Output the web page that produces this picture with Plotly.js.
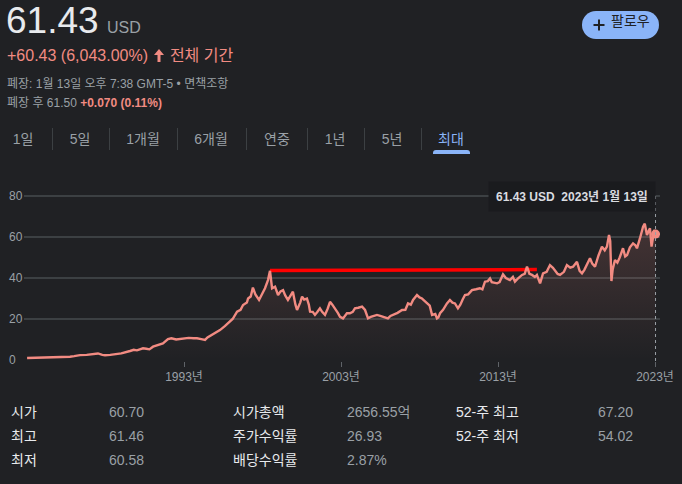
<!DOCTYPE html>
<html><head><meta charset="utf-8">
<script src="https://cdn.plot.ly/plotly-3.0.1.min.js"></script>
<style>
html,body{margin:0;padding:0;background:#202124;width:682px;height:484px;overflow:hidden}
#chart{position:absolute;left:0;top:0;width:682px;height:484px}
.t{position:absolute;white-space:nowrap;font-family:"Liberation Sans",Arial,"Noto Sans CJK KR",sans-serif}
.tab{position:absolute;width:80px;text-align:center;font-size:14px;line-height:14px;top:132px;color:#9aa0a6;white-space:nowrap;font-family:"Liberation Sans",Arial,"Noto Sans CJK KR",sans-serif}
.sep{position:absolute;top:128px;width:1px;height:22px;background:#3c4043}
.lab{font-size:14px;line-height:14px;color:#e8eaed}
.val{font-size:14px;line-height:14px;color:#9aa0a6}
</style></head><body>
<div id="chart"></div>

<div class="t" style="left:6px;top:2px;font-size:37px;line-height:37px;color:#e8eaed">61.43</div>
<div class="t" style="left:107px;top:19.5px;font-size:16px;line-height:16px;color:#9aa0a6">USD</div>
<div class="t" style="left:7px;top:47.5px;font-size:16px;line-height:16px;color:#f28b82">+60.43 (6,043.00%)
<svg width="10" height="13" viewBox="0 0 10 13" style="margin:0 1px -1px 2px"><path d="M5 0 L10 6 L6.5 6 L6.5 13 L3.5 13 L3.5 6 L0 6 Z" fill="#f28b82"/></svg> 전체 기간</div>
<div class="t" style="left:7px;top:77.8px;font-size:12px;line-height:12px;color:#9aa0a6">폐장: 1월 13일 오후 7:38 GMT-5 • 면책조항</div>
<div class="t" style="left:7px;top:96.8px;font-size:12px;line-height:12px;color:#9aa0a6">폐장 후 61.50 <span style="color:#f28b82;font-weight:bold">+0.070 (0.11%)</span></div>

<div style="position:absolute;left:582px;top:11px;width:77px;height:28px;border-radius:14px;background:#8ab4f8"></div>
<svg style="position:absolute;left:593px;top:19px" width="12" height="12"><path d="M6 0.5 V11.5 M0.5 6 H11.5" stroke="#202124" stroke-width="2"/></svg>
<div class="t" style="left:611px;top:13.5px;font-size:14px;line-height:14px;color:#202124">팔로우</div>

<div class="tab" style="left:-17px">1일</div>
<div class="sep" style="left:52px"></div>
<div class="tab" style="left:40px">5일</div>
<div class="sep" style="left:109px"></div>
<div class="tab" style="left:103px">1개월</div>
<div class="sep" style="left:177px"></div>
<div class="tab" style="left:171px">6개월</div>
<div class="sep" style="left:246px"></div>
<div class="tab" style="left:237px">연중</div>
<div class="sep" style="left:307px"></div>
<div class="tab" style="left:295px">1년</div>
<div class="sep" style="left:364px"></div>
<div class="tab" style="left:352px">5년</div>
<div class="sep" style="left:421px"></div>
<div class="tab" style="left:411px;color:#8ab4f8">최대</div>
<div style="position:absolute;left:433px;top:150px;width:37px;height:4px;border-radius:3px 3px 0 0;background:#8ab4f8"></div>

<div class="t lab" style="left:11px;top:405px">시가</div>
<div class="t val" style="left:109px;top:405px">60.70</div>
<div class="t lab" style="left:11px;top:429px">최고</div>
<div class="t val" style="left:109px;top:429px">61.46</div>
<div class="t lab" style="left:11px;top:453px">최저</div>
<div class="t val" style="left:109px;top:453px">60.58</div>
<div class="t lab" style="left:233px;top:405px">시가총액</div>
<div class="t val" style="left:347px;top:405px">2656.55억</div>
<div class="t lab" style="left:233px;top:429px">주가수익률</div>
<div class="t val" style="left:347px;top:429px">26.93</div>
<div class="t lab" style="left:233px;top:453px">배당수익률</div>
<div class="t val" style="left:347px;top:453px">2.87%</div>
<div class="t lab" style="left:456px;top:405px">52-주 최고</div>
<div class="t val" style="left:598px;top:405px">67.20</div>
<div class="t lab" style="left:456px;top:429px">52-주 최저</div>
<div class="t val" style="left:598px;top:429px">54.02</div>

<script>
const dates = [
'1983-01-03','1983-07-01','1984-01-02','1984-07-02','1985-01-02','1985-09-27','1986-01-02','1986-05-19','1986-10-20','1987-03-13',
'1987-07-09','1987-10-19','1987-12-21','1988-04-20','1988-09-23','1989-01-03','1989-07-24','1989-10-19','1990-01-02','1990-05-23',
'1990-08-08','1990-10-19','1991-01-11','1991-05-27','1991-08-29','1991-12-24','1992-03-13','1992-07-01','1992-10-01','1993-01-04',
'1993-04-20','1993-08-08','1993-10-30','1994-02-06','1994-05-05','1994-07-01','1994-10-12','1995-01-03','1995-04-17','1995-08-08',
'1995-12-06','1996-02-06','1996-05-19','1996-08-08','1996-10-05','1997-01-02','1997-01-30','1997-04-01','1997-05-22','1997-07-19',
'1997-10-12','1997-12-13','1998-02-28','1998-05-08','1998-06-24','1998-08-11','1998-10-19','1998-12-28','1999-02-24','1999-04-23',
'1999-06-13','1999-08-15','1999-10-19','1999-12-09','2000-02-06','2000-03-14','2000-05-26','2000-07-09','2000-08-26','2000-10-30',
'2000-12-13','2001-01-11','2001-03-14','2001-05-05','2001-07-02','2001-08-29','2001-10-19','2001-12-24','2002-02-24','2002-04-20',
'2002-06-13','2002-08-15','2002-10-19','2002-12-09','2003-02-17','2003-05-19','2003-07-27','2003-10-01','2003-11-21','2004-02-06',
'2004-05-05','2004-07-13','2004-09-20','2004-11-24','2005-02-06','2005-04-17','2005-07-02','2005-09-06','2005-11-06','2005-12-28',
'2006-02-24','2006-04-23','2006-08-08','2006-11-21','2007-02-06','2007-04-09','2007-06-13','2007-08-04','2007-11-03','2008-01-02',
'2008-02-28','2008-04-20','2008-06-24','2008-08-26','2008-10-19','2009-01-02','2009-02-10','2009-03-14','2009-04-23','2009-07-02',
'2009-10-01','2009-12-09','2010-02-06','2010-04-05','2010-06-13','2010-08-08','2010-10-01','2010-11-24','2011-02-06','2011-05-05',
'2011-08-08','2011-11-06','2012-01-03','2012-03-03','2012-05-08','2012-06-28','2012-08-08','2012-10-19','2012-12-09','2013-02-06',
'2013-04-27','2013-07-02','2013-10-05','2013-12-13','2014-01-30','2014-04-20','2014-07-13','2014-09-13','2014-11-06','2015-01-02',
'2015-03-03','2015-05-08','2015-06-24','2015-09-06','2015-11-14','2016-02-06','2016-04-23','2016-07-01','2016-08-19','2016-10-19',
'2016-12-13','2017-03-14','2017-05-22','2017-08-08','2017-10-12','2018-01-11','2018-03-14','2018-05-08','2018-07-02','2018-09-02',
'2018-11-10','2019-01-02','2019-03-07','2019-05-27','2019-08-15','2019-10-19','2019-12-09','2020-01-27','2020-02-24','2020-03-23',
'2020-04-20','2020-06-13','2020-08-08','2020-10-01','2020-12-17','2021-02-06','2021-03-22','2021-05-27','2021-08-08','2021-10-01',
'2021-11-07','2022-01-15','2022-03-29','2022-05-08','2022-06-28','2022-08-08','2022-09-06','2022-10-12','2022-11-07','2022-12-13',
'2023-01-13'];
const prices = [
1.00,1.05,1.10,1.15,1.30,1.60,1.90,2.40,2.50,2.90,
3.20,2.50,2.30,2.50,2.80,3.20,4.40,5.00,4.70,5.70,
5.50,5.20,6.50,7.50,8.10,10.2,10.6,10.0,10.2,10.4,
10.8,10.6,10.6,10.2,9.80,11.0,12.2,13.0,14.6,16.5,
18.5,20.0,23.6,24.5,26.8,28.0,30.0,31.0,35.3,32.0,
29.3,32.0,35.0,39.0,43.5,35.0,35.8,31.7,33.5,34.1,
31.5,29.3,31.5,33.3,27.0,24.4,28.0,30.9,29.5,30.0,
27.0,23.6,23.5,22.0,23.5,25.2,23.5,22.0,25.0,28.4,
27.0,25.2,23.0,21.1,20.3,22.8,22.8,23.5,25.2,25.5,
26.0,24.4,20.3,21.0,21.5,22.0,21.5,21.1,20.5,20.3,
21.5,22.0,23.0,24.4,24.5,27.6,27.0,29.3,31.7,30.5,
30.0,29.0,27.6,26.5,22.0,22.5,20.3,20.8,22.8,24.5,
27.6,29.3,28.0,27.6,25.2,27.0,29.5,31.7,32.0,34.1,
34.5,35.0,34.5,38.2,38.5,39.8,38.0,37.5,37.4,38.0,
41.8,40.0,39.0,40.5,38.2,40.0,41.5,42.0,45.5,42.0,
41.5,40.5,41.5,37.4,42.3,43.0,46.3,45.0,43.9,42.0,
41.5,43.0,46.3,45.0,45.5,47.9,43.5,42.3,44.0,46.3,
49.6,47.0,45.5,51.0,55.3,53.5,55.3,61.0,58.0,38.5,
44.0,48.8,47.5,50.0,54.5,50.5,51.2,55.0,56.9,56.0,
54.5,59.3,65.0,66.5,61.0,63.0,64.2,55.3,59.0,63.4,
61.43];
const xTickVals = ['1993-01-01','2003-01-01','2013-01-01','2023-01-01'];
const xTickText = ['1993년','2003년','2013년','2023년'];
const yTickVals = [0, 20, 40, 60, 80];
const refLineX = ['1998-06-24','2015-06-24'];
const refLineY = [43.6, 44.1];
const lastDate = dates[dates.length-1];
const lastPrice = prices[prices.length-1];
const tipText = '61.43 USD\u00a0\u00a02023년 1월 13일';

const FONT = 'Liberation Sans, Arial, Noto Sans CJK KR, sans-serif';

const traces = [
  {x: refLineX, y: refLineY, type:'scatter', mode:'lines', line:{color:'#ff0000', width:3.5}, hoverinfo:'skip'},
  {x: dates, y: prices, type:'scatter', mode:'lines', line:{color:'#f28b82', width:2.4},
   fill:'tozeroy',
   fillgradient:{type:'vertical', start:0, stop:66, colorscale:[[0,'rgba(242,139,130,0.0)'],[1,'rgba(242,139,130,0.17)']]},
   hoverinfo:'skip'},
  {x:[lastDate], y:[lastPrice], type:'scatter', mode:'markers', marker:{size:9, color:'#f28b82'}, hoverinfo:'skip'}
];

const annotations = yTickVals.map(v => ({
  xref:'paper', x:(6.5-24)/636, xanchor:'left', yref:'y', y:v, yanchor:'middle',
  text:String(v), showarrow:false, font:{size:12, color:'#9aa0a6', family:FONT}
}));
annotations.push({
  xref:'x', x:lastDate, xanchor:'right', yref:'paper', y:(361-196)/171, yanchor:'middle',
  text:'<b>'+tipText+'</b>', showarrow:false, bgcolor:'#1a1b1e', borderpad:7,
  font:{size:12, color:'#dadce0', family:FONT}
});

const layout = {
  width:682, height:484,
  margin:{l:24, r:22, t:190, b:123},
  paper_bgcolor:'rgba(0,0,0,0)', plot_bgcolor:'rgba(0,0,0,0)',
  showlegend:false,
  font:{family:FONT, color:'#9aa0a6', size:12},
  xaxis:{type:'date', range:['1982-10-23','2023-04-27'], tickvals:xTickVals, ticktext:xTickText,
    ticks:'outside', ticklen:5, tickcolor:'#5f6368', tickwidth:1,
    tickfont:{size:12, color:'#9aa0a6', family:FONT},
    showgrid:false, zeroline:false, showline:false, fixedrange:true},
  yaxis:{range:[-0.49, 82.93], tickvals:yTickVals, showticklabels:false,
    gridcolor:'#3c4043', gridwidth:1.5, zeroline:false, showline:false, fixedrange:true},
  shapes:[{type:'line', xref:'x', x0:lastDate, x1:lastDate, yref:'paper', y0:0, y1:0.98,
    line:{color:'#9aa0a6', width:1, dash:'dot'}}],
  annotations: annotations
};

Plotly.newPlot('chart', traces, layout, {displayModeBar:false, staticPlot:true});
</script>
</body></html>
